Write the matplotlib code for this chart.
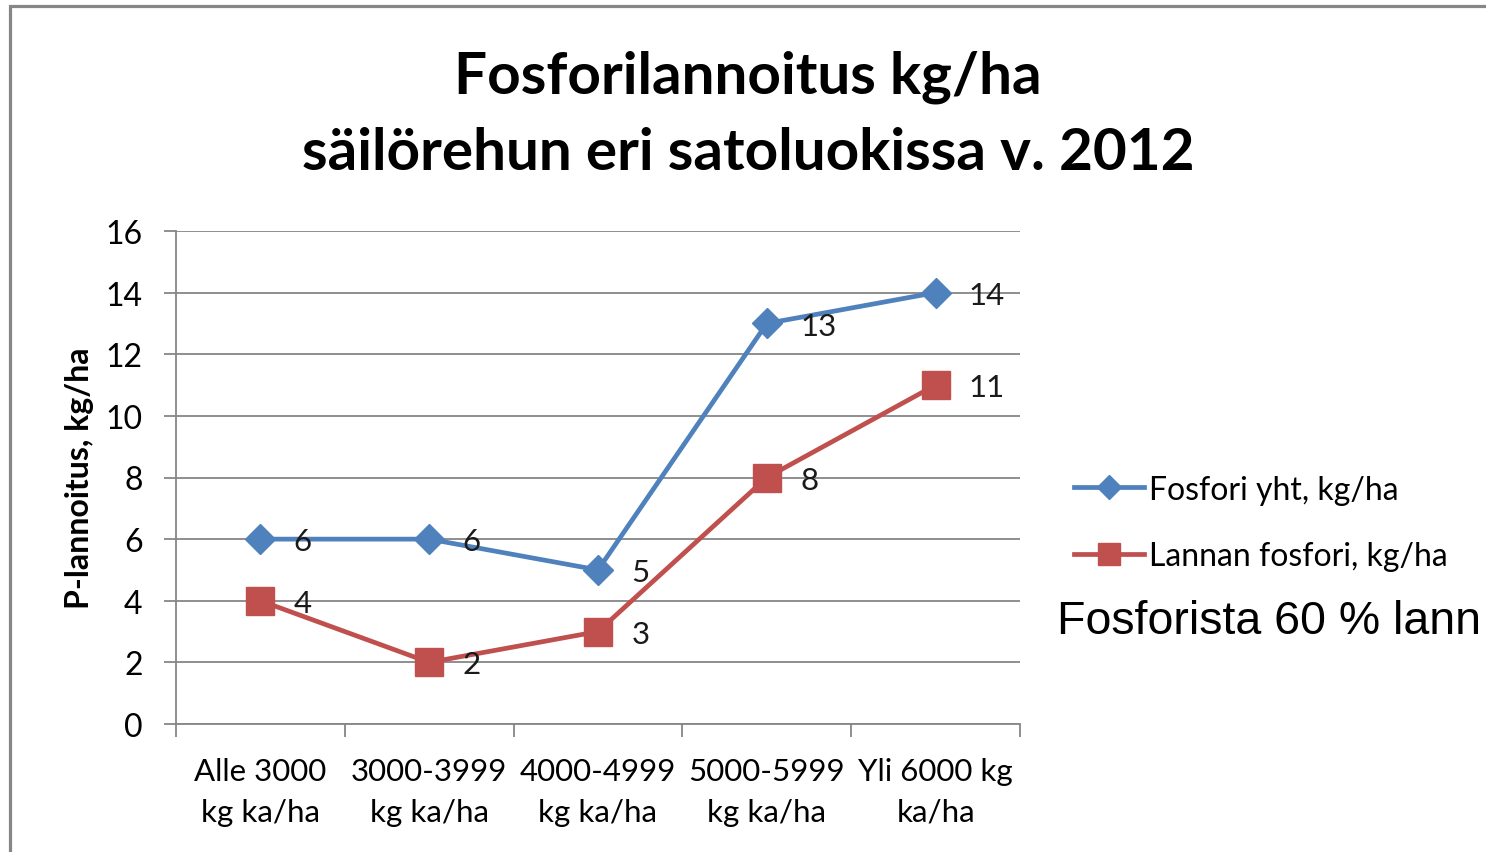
import matplotlib
matplotlib.use("Agg")
import matplotlib.pyplot as plt
from matplotlib.patches import Rectangle

plt.rcParams['font.family'] = ['Lato', 'DejaVu Sans']

# data
luokat = ["Alle 3000\nkg ka/ha", "3000-3999\nkg ka/ha", "4000-4999\nkg ka/ha",
          "5000-5999\nkg ka/ha", "Yli 6000 kg\nka/ha"]
fosfori_yht = [6, 6, 5, 13, 14]
lannan_fosfori = [4, 2, 3, 8, 11]
sarjat = ["Fosfori yht, kg/ha", "Lannan fosfori, kg/ha"]
yticks = [0, 2, 4, 6, 8, 10, 12, 14, 16]

sininen = "#4F81BD"
punainen = "#C0504D"
harmaa = "#868686"

W, H = 1486, 853
fig = plt.figure(figsize=(W / 100, H / 100), dpi=100)
ax = fig.add_axes([176 / W, 1 - 725 / H, (1020 - 176) / W, (725 - 232) / H])

x = list(range(len(luokat)))
l1, = ax.plot(x, fosfori_yht, color=sininen, lw=3.4, marker="D", ms=15,
              label=sarjat[0], zorder=3)
l2, = ax.plot(x, lannan_fosfori, color=punainen, lw=3.4, marker="s", ms=20,
              label=sarjat[1], zorder=3)

for xi, v in zip(x, fosfori_yht):
    ax.annotate(str(v), (xi, v), xytext=(24, -1.5), textcoords="offset points",
                ha="left", va="center", fontsize=22.5, color="#1a1a1a", zorder=4)
for xi, v in zip(x, lannan_fosfori):
    ax.annotate(str(v), (xi, v), xytext=(24, -1.5), textcoords="offset points",
                ha="left", va="center", fontsize=22.5, color="#1a1a1a", zorder=4)

ax.set_xlim(-0.5, len(luokat) - 0.5)
ax.set_ylim(0, 16)
ax.set_yticks(yticks)
ax.set_xticks([i + 0.5 for i in range(-1, len(luokat))])
ax.set_xticklabels([])
ax.set_xticks(x, minor=True)
ax.set_xticklabels(luokat, minor=True, fontsize=22.5, linespacing=1.55)
ax.tick_params(axis="x", which="minor", length=0, pad=24)
ax.tick_params(axis="x", which="major", length=9, color=harmaa, width=1.3)
ax.tick_params(axis="y", length=9, color=harmaa, width=1.3, labelsize=23, pad=15)
ax.grid(axis="y", color=harmaa, lw=1.3)
ax.set_axisbelow(True)
for s in ["top", "right"]:
    ax.spines[s].set_visible(False)
for s in ["left", "bottom"]:
    ax.spines[s].set_color(harmaa)
    ax.spines[s].set_linewidth(1.3)

ax.set_ylabel("P-lannoitus, kg/ha", fontsize=23, fontweight="bold", labelpad=8)

fig.text(748 / W, 1 - 77 / H, "Fosforilannoitus kg/ha", ha="center", va="center",
         fontsize=42, fontweight="bold")
fig.text(748 / W, 1 - 153 / H, "säilörehun eri satoluokissa v. 2012", ha="center",
         va="center", fontsize=42, fontweight="bold")

fig.legend(handles=[l1, l2], loc="center left", bbox_to_anchor=(1058 / W, 1 - 524 / H),
           frameon=False, fontsize=23, handlelength=2.2, handletextpad=0.15,
           labelspacing=1.15, markerscale=0.8, borderpad=0)

fig.text(1057 / W, 1 - 622 / H, "Fosforista 60 % lann", ha="left", va="center",
         fontsize=33.5, family=["Liberation Sans", "DejaVu Sans"])

fig.patches.append(Rectangle((9.5 / W, -0.1), 2, 1.1 - 6.5 / H, transform=fig.transFigure,
                             fill=False, edgecolor=harmaa, lw=2.3))

fig.savefig("out.png", dpi=100)
